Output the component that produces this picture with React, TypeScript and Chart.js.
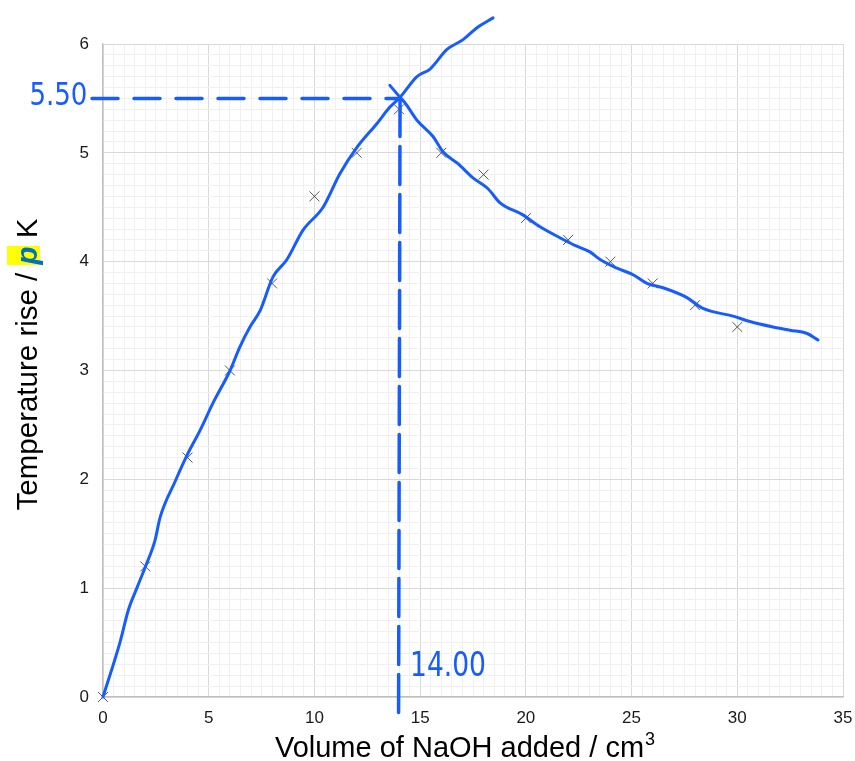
import React, { useEffect, useRef } from 'react';
import { Chart, registerables } from 'chart.js';

Chart.register(...registerables);

// Measured points (crosses)
const volumes = [0, 2, 4, 6, 8, 10, 12, 14, 16, 18, 20, 22, 24, 26, 28, 30];
const tempRise = [0, 1.2, 2.2, 3.0, 3.8, 4.6, 5.0, 5.4, 5.0, 4.8, 4.4, 4.2, 4.0, 3.8, 3.6, 3.4];

// Hand-drawn rising best-fit line
const risingX = [0, 0.8, 1.2, 1.6, 1.99, 2.46, 2.7, 3.41, 3.97, 4.59, 5.2, 6.01, 6.48, 6.95, 7.43, 8.04, 8.7, 9.46, 10.41, 11.21, 12.01, 12.96, 13.57, 14.05, 14.85, 15.47, 16.27, 17.03, 17.69, 18.45];
const risingY = [0, 0.5, 0.8, 1.0, 1.19, 1.44, 1.65, 1.98, 2.22, 2.45, 2.7, 3.0, 3.22, 3.4, 3.55, 3.86, 4.02, 4.29, 4.5, 4.81, 5.05, 5.27, 5.42, 5.51, 5.7, 5.77, 5.95, 6.04, 6.15, 6.24];

// Hand-drawn falling best-fit line
const fallingX = [13.57, 14.05, 14.28, 14.85, 15.61, 16.08, 16.79, 17.5, 18.21, 18.78, 19.86, 20.67, 21.61, 22.32, 23.03, 23.51, 24.31, 25.07, 25.73, 26.49, 27.62, 28.38, 29.8, 30.6, 31.69, 32.49, 33.3, 33.82];
const fallingY = [5.62, 5.51, 5.46, 5.3, 5.15, 5.01, 4.9, 4.77, 4.67, 4.54, 4.43, 4.32, 4.22, 4.15, 4.09, 4.02, 3.94, 3.88, 3.8, 3.76, 3.67, 3.57, 3.5, 3.45, 3.4, 3.37, 3.34, 3.28];

// Dashed construction lines
const dashHX = [-0.52, 14.05];
const dashHY = [5.5, 5.5];
const dashVX = [14.05, 13.98];
const dashVY = [5.5, -0.15];

// Tick labels
const xTickLabels = [0, 5, 10, 15, 20, 25, 30, 35];
const yTickLabels = [0, 1, 2, 3, 4, 5, 6];

const xTitle = 'Volume of NaOH added / cm';
const xTitleSup = '3';
const yTitleParts = ['Temperature rise / ', 'p', ' K'];

const annot55 = { text: '5.50', x: -0.5, y: 5.5 };
const annot14 = { text: '14.00', x: 14, y: 0.27 };

const BLUE = '#175cff';
const FONT = '"Liberation Sans", Arial, sans-serif';

const isOn = (v: number, list: number[]) => list.some((t) => Math.abs(t - v) < 1e-6);
const isMultiple = (v: number, step: number) => Math.abs(v / step - Math.round(v / step)) < 1e-6;

const toPts = (xs: number[], ys: number[]) => xs.map((x, i) => ({ x, y: ys[i] }));

const titlePlugin = {
  id: 'customTitles',
  afterDraw(chart: any) {
    const { ctx, chartArea, scales } = chart;
    ctx.save();
    // X axis title with superscript
    ctx.fillStyle = '#000';
    ctx.textBaseline = 'alphabetic';
    ctx.textAlign = 'left';
    ctx.font = `29px ${FONT}`;
    const w1 = ctx.measureText(xTitle).width;
    ctx.font = `18px ${FONT}`;
    const w2 = ctx.measureText(xTitleSup).width;
    const total = w1 + w2 + 1;
    const cx = (chartArea.left + chartArea.right) / 2 - 8;
    const startX = cx - total / 2;
    const baseY = chartArea.bottom + 60;
    ctx.font = `29px ${FONT}`;
    ctx.fillText(xTitle, startX, baseY);
    ctx.font = `18px ${FONT}`;
    ctx.fillText(xTitleSup, startX + w1 + 1, baseY - 12);

    // Y axis title with highlighted "p"
    ctx.save();
    const cy = (chartArea.top + chartArea.bottom) / 2 - 6;
    ctx.translate(37, cy);
    ctx.rotate(-Math.PI / 2);
    const fNorm = `29.5px ${FONT}`;
    const fP = `italic bold 29.5px ${FONT}`;
    ctx.font = fNorm;
    const a = ctx.measureText(yTitleParts[0]).width;
    const c = ctx.measureText(yTitleParts[2]).width;
    ctx.font = fP;
    const b = ctx.measureText(yTitleParts[1]).width;
    const tw = a + b + c;
    let x0 = -tw / 2;
    ctx.font = fNorm;
    ctx.fillStyle = '#000';
    ctx.fillText(yTitleParts[0], x0, 0);
    x0 += a;
    ctx.fillStyle = '#ffff00';
    ctx.fillRect(x0 - 0.5, -30, b + 1, 33);
    ctx.font = fP;
    ctx.fillStyle = '#0070c0';
    ctx.fillText(yTitleParts[1], x0, 0);
    x0 += b;
    ctx.font = fNorm;
    ctx.fillStyle = '#000';
    ctx.fillText(yTitleParts[2], x0, 0);
    ctx.restore();

    // Handwritten annotations
    const xs = scales.x;
    const ys = scales.y;
    ctx.fillStyle = BLUE;
    ctx.textBaseline = 'middle';
    ctx.textAlign = 'right';
    ctx.font = `32px "DejaVu Sans", sans-serif`;
    ctx.fillText(annot55.text, xs.getPixelForValue(annot55.x) - 5, ys.getPixelForValue(annot55.y) - 2, 58);
    ctx.textAlign = 'left';
    ctx.font = `34px "DejaVu Sans", sans-serif`;
    ctx.fillText(annot14.text, xs.getPixelForValue(annot14.x) + 11, ys.getPixelForValue(annot14.y), 76);
    ctx.restore();
  },
};

export default function App() {
  const ref = useRef<HTMLCanvasElement | null>(null);
  useEffect(() => {
    if (!ref.current) return;
    const lineDs = (data: any[], extra: any = {}) => ({
      type: 'scatter',
      data,
      showLine: true,
      pointRadius: 0,
      borderColor: BLUE,
      borderWidth: 3,
      cubicInterpolationMode: 'monotone',
      clip: false,
      order: 1,
      borderCapStyle: 'round',
      borderJoinStyle: 'round',
      ...extra,
    });
    const chart = new Chart(ref.current, {
      type: 'scatter',
      data: {
        datasets: [
          lineDs(toPts(risingX, risingY)),
          lineDs(toPts(fallingX, fallingY)),
          lineDs(toPts(dashHX, dashHY), { borderDash: [26, 16], cubicInterpolationMode: 'default', tension: 0, borderWidth: 3.5 }),
          lineDs(toPts(dashVX, dashVY), { borderDash: [38, 10], cubicInterpolationMode: 'default', tension: 0, borderWidth: 3.5 }),
          {
            type: 'scatter',
            data: toPts(volumes, tempRise),
            pointStyle: 'crossRot',
            pointRadius: 7,
            pointBorderWidth: 1,
            borderColor: '#555',
            backgroundColor: '#555',
            showLine: false,
            order: 10,
            clip: false,
          },
        ] as any,
      },
      options: {
        animation: false,
        responsive: false,
        events: [],
        layout: { padding: { left: 0, right: 12, top: 44, bottom: 0 } },
        plugins: { legend: { display: false }, tooltip: { enabled: false }, title: { display: false } },
        scales: {
          x: {
            type: 'linear',
            min: 0,
            max: 35,
            afterFit: (s: any) => { s.height = 64; s.paddingLeft = 0; s.paddingRight = 0; },
            ticks: {
              stepSize: 0.5,
              autoSkip: false,
              maxRotation: 0,
              padding: 11,
              color: '#1a1a1a',
              font: { size: 17, family: FONT },
              callback: (v: any) => (isOn(Number(v), xTickLabels) ? String(v) : ''),
            },
            grid: {
              drawTicks: false,
              color: (c: any) => (isMultiple(c.tick.value, 5) ? '#d9d9d9' : '#f0f0f0'),
              lineWidth: 1,
            },
            border: { color: '#bfbfbf', width: 1.3 },
          },
          y: {
            type: 'linear',
            min: 0,
            max: 6,
            afterFit: (s: any) => { s.width = 103; s.paddingTop = 0; s.paddingBottom = 0; },
            ticks: {
              stepSize: 0.1,
              autoSkip: false,
              padding: 14,
              color: '#1a1a1a',
              font: { size: 17, family: FONT },
              callback: (v: any) => (isOn(Number(v), yTickLabels) ? String(Math.round(Number(v))) : ''),
            },
            grid: {
              drawTicks: false,
              color: (c: any) => (isMultiple(c.tick.value, 1) ? '#d9d9d9' : '#f0f0f0'),
              lineWidth: 1,
            },
            border: { color: '#bfbfbf', width: 1.3 },
          },
        },
      } as any,
      plugins: [titlePlugin],
    });
    return () => chart.destroy();
  }, []);
  return (
    <div style={{ position: 'fixed', left: 0, top: 0, width: 855, height: 761, background: '#fff' }}>
      <canvas ref={ref} width={855} height={761} style={{ display: 'block', width: 855, height: 761 }} />
    </div>
  );
}
